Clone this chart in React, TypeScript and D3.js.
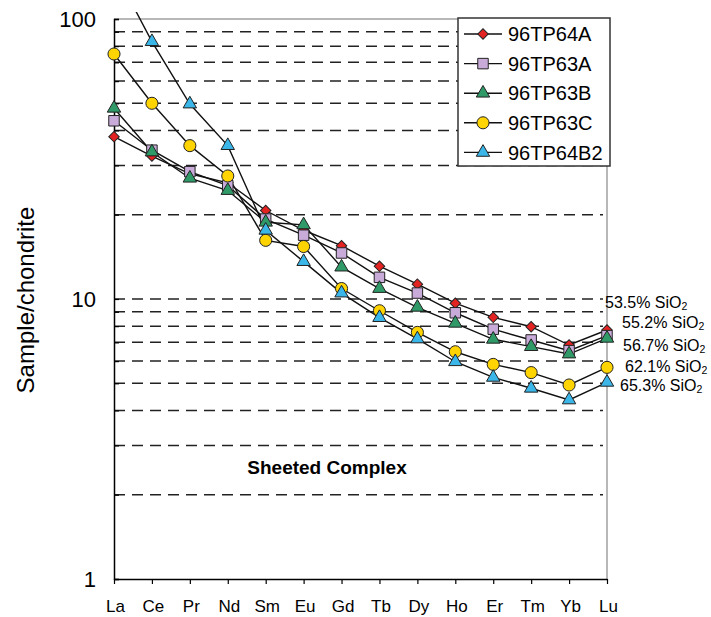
import React, { useEffect, useRef } from 'react';
import * as d3 from 'd3';

const elements = ['La', 'Ce', 'Pr', 'Nd', 'Sm', 'Eu', 'Gd', 'Tb', 'Dy', 'Ho', 'Er', 'Tm', 'Yb', 'Lu'];

const s96TP64A = [38, 32.4, 28, 26, 20.7, 17.6, 15.5, 13.1, 11.3, 9.66, 8.6, 7.96, 6.85, 7.75];
const s96TP63A = [43.3, 34, 28.5, 25.4, 19.3, 16.9, 14.6, 11.95, 10.5, 8.93, 7.8, 7.14, 6.54, 7.4];
const s96TP63B = [48, 33.5, 27, 24.4, 18.8, 18.4, 13.0, 10.9, 9.34, 8.19, 7.18, 6.76, 6.36, 7.24];
const s96TP63C = [75, 50, 35.3, 27.5, 16.2, 15.4, 10.9, 9.08, 7.6, 6.48, 5.84, 5.46, 4.93, 5.7];
const s96TP64B2 = [150, 83, 49.7, 35.3, 17.6, 13.6, 10.5, 8.58, 7.2, 5.97, 5.25, 4.8, 4.36, 5.04];

const majorTicks = [1, 10, 100];
const minorTicks = [2, 3, 4, 5, 6, 7, 8, 9, 20, 30, 40, 50, 60, 70, 80, 90];

const silicaLabels = ['53.5%', '55.2%', '56.7%', '62.1%', '65.3%'];

const series = [
  { name: '96TP64A', values: s96TP64A, shape: 'diamond', color: '#e32222', size: 55 },
  { name: '96TP63A', values: s96TP63A, shape: 'square', color: '#c8abd8', size: 110 },
  { name: '96TP63B', values: s96TP63B, shape: 'triangle', color: '#2f9a68', size: 78 },
  { name: '96TP63C', values: s96TP63C, shape: 'circle', color: '#ffd400', size: 115 },
  { name: '96TP64B2', values: s96TP64B2, shape: 'triangle', color: '#3ab6e8', size: 78 },
];

const FONT = '"Liberation Sans", Arial, sans-serif';

export default function App() {
  const svgRef = useRef<SVGSVGElement>(null);

  useEffect(() => {
    if (!svgRef.current) return;
    drawChart();
  }, []);

  const drawChart = () => {
    const svg = d3.select(svgRef.current);
    svg.selectAll('*').remove();

    const left = 114;
    const right = 607;
    const top = 19;
    const bottom = 579;

    const x = d3.scalePoint<string>().domain(elements).range([left, right]);
    const y = d3.scaleLog().domain([1, 100]).range([bottom, top]);

    const symbolType = (shape: string) =>
      shape === 'diamond' || shape === 'square'
        ? d3.symbolSquare
        : shape === 'triangle'
        ? d3.symbolTriangle
        : d3.symbolCircle;
    const rot = (shape: string) => (shape === 'diamond' ? ' rotate(45)' : '');

    // clip
    svg
      .append('defs')
      .append('clipPath')
      .attr('id', 'plot-clip')
      .append('rect')
      .attr('x', left - 10)
      .attr('y', 12)
      .attr('width', right - left + 20)
      .attr('height', bottom - 12 + 10);

    // frame (top and right in grey)
    svg
      .append('line')
      .attr('x1', left)
      .attr('x2', right)
      .attr('y1', y(100))
      .attr('y2', y(100))
      .attr('stroke', '#a0a0a0')
      .attr('stroke-width', 1.5);
    svg
      .append('line')
      .attr('x1', right)
      .attr('x2', right)
      .attr('y1', y(100))
      .attr('y2', bottom)
      .attr('stroke', '#a0a0a0')
      .attr('stroke-width', 1.5);

    // dashed grid
    svg
      .append('g')
      .selectAll('line')
      .data(minorTicks.concat([10]))
      .enter()
      .append('line')
      .attr('x1', left)
      .attr('x2', right - 4)
      .attr('y1', (d) => y(d))
      .attr('y2', (d) => y(d))
      .attr('stroke', '#222')
      .attr('stroke-width', 1.5)
      .attr('stroke-dasharray', '11,7');

    // Y axis
    const yAxis = svg
      .append('g')
      .attr('transform', `translate(${left},0)`)
      .call(
        d3
          .axisRight(y)
          .tickValues(majorTicks.concat(minorTicks))
          .tickSize(5)
          .tickFormat(() => '')
      );
    yAxis.select('.domain').attr('stroke', '#000').attr('stroke-width', 1.5);
    yAxis.selectAll('.tick line').attr('stroke', '#000').attr('stroke-width', 1.2);

    svg
      .append('g')
      .selectAll('text')
      .data(majorTicks)
      .enter()
      .append('text')
      .attr('x', left - 18)
      .attr('y', (d) => y(d))
      .attr('dy', '0.36em')
      .attr('text-anchor', 'end')
      .style('font-family', FONT)
      .style('font-size', '22px')
      .style('fill', '#000')
      .text((d) => String(d));

    // X axis
    const xAxis = svg
      .append('g')
      .attr('transform', `translate(0,${bottom})`)
      .call(d3.axisBottom(x).tickSize(5).tickSizeOuter(0));
    xAxis.select('.domain').attr('stroke', '#000').attr('stroke-width', 1.5);
    xAxis.selectAll('.tick line').attr('stroke', '#000').attr('stroke-width', 1.2);
    xAxis
      .selectAll('.tick text')
      .attr('y', 0)
      .attr('dy', 0)
      .attr('transform', 'translate(1,33)')
      .style('font-family', FONT)
      .style('font-size', '17px')
      .style('fill', '#000');

    // Y label
    svg
      .append('text')
      .attr('text-anchor', 'middle')
      .attr('transform', `translate(34,300) rotate(-90)`)
      .style('font-family', FONT)
      .style('font-size', '24px')
      .style('fill', '#000')
      .text('Sample/chondrite');

    // Title inside plot
    svg
      .append('text')
      .attr('text-anchor', 'middle')
      .attr('x', 327)
      .attr('y', 474)
      .style('font-family', FONT)
      .style('font-size', '19px')
      .style('font-weight', 'bold')
      .style('fill', '#000')
      .text('Sheeted Complex');

    // lines
    const line = d3
      .line<number>()
      .x((_d, i) => x(elements[i]) as number)
      .y((d) => y(d));

    const plot = svg.append('g').attr('clip-path', 'url(#plot-clip)');

    series.forEach((s) => {
      plot
        .append('path')
        .datum(s.values)
        .attr('fill', 'none')
        .attr('stroke', '#111')
        .attr('stroke-width', 1.4)
        .attr('d', line);
    });

    series.forEach((s) => {
      plot
        .append('g')
        .selectAll('path')
        .data(s.values)
        .enter()
        .append('path')
        .attr('d', d3.symbol().type(symbolType(s.shape)).size(s.size)() as string)
        .attr('transform', (d, i) => `translate(${x(elements[i])},${y(d)})${rot(s.shape)}`)
        .attr('fill', s.color)
        .attr('stroke', '#222')
        .attr('stroke-width', 1);
    });

    // SiO2 labels near Lu
    const labelX = [605, 622, 623, 625, 620];
    const labelY = [303, 323, 346, 367, 386];
    silicaLabels.forEach((lab, i) => {
      const t = svg
        .append('text')
        .attr('x', labelX[i])
        .attr('y', labelY[i])
        .attr('dy', '0.3em')
        .style('font-family', FONT)
        .style('font-size', '16px')
        .style('fill', '#000');
      t.append('tspan').text(`${lab} SiO`);
      t.append('tspan').attr('dy', '2.5').style('font-size', '10.5px').text('2');
    });

    // Legend
    const lg = svg.append('g');
    lg.append('rect')
      .attr('x', 458)
      .attr('y', 18)
      .attr('width', 152)
      .attr('height', 148)
      .attr('fill', '#fff')
      .attr('stroke', '#333')
      .attr('stroke-width', 1.5);

    series.forEach((s, i) => {
      const cy = 34 + i * 29.6;
      lg.append('line')
        .attr('x1', 464)
        .attr('x2', 502)
        .attr('y1', cy)
        .attr('y2', cy)
        .attr('stroke', '#111')
        .attr('stroke-width', 1.4);
      lg.append('path')
        .attr('d', d3.symbol().type(symbolType(s.shape)).size(s.size)() as string)
        .attr('transform', `translate(483,${cy})${rot(s.shape)}`)
        .attr('fill', s.color)
        .attr('stroke', '#222')
        .attr('stroke-width', 1);
      lg.append('text')
        .attr('x', 508)
        .attr('y', cy)
        .attr('dy', '0.36em')
        .style('font-family', FONT)
        .style('font-size', '20px')
        .style('fill', '#000')
        .text(s.name);
    });
  };

  return (
    <div style={{ position: 'absolute', left: 0, top: 0 }}>
      <svg ref={svgRef} width={711} height={617} style={{ display: 'block', background: '#fff' }}></svg>
    </div>
  );
}
